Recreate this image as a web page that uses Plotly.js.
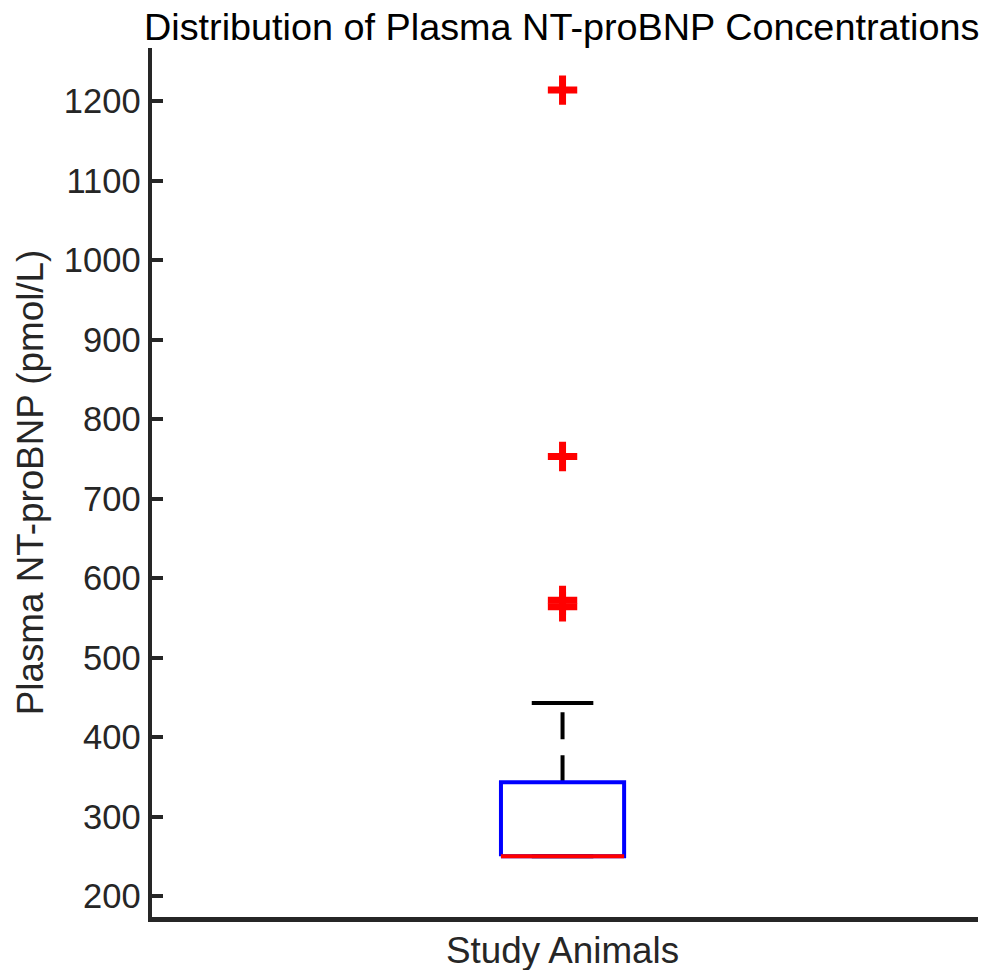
<!DOCTYPE html>
<html>
<head>
<meta charset="utf-8">
<script src="https://cdn.plot.ly/plotly-3.0.1.min.js"></script>
<style>html,body{margin:0;padding:0;background:#fff;}#chart{width:995px;height:970px;}</style>
</head>
<body>
<div id="chart"></div>
<script>
// ---- data ----
var categories = ['Study Animals'];
var q1Values = [250];
var medianValues = [250];
var q3Values = [343];
var upperWhisker = [443];
var lowerWhisker = [250];
var outlierValues = [564, 572, 753, 1214];
var yTickValues = [200, 300, 400, 500, 600, 700, 800, 900, 1000, 1100, 1200];

// ---- styling constants ----
var BOX_HALF = 0.075, CAP_HALF = 0.0375;
var AXIS_COLOR = '#262626';
var FONT = 'Liberation Sans, Arial, Helvetica, sans-serif';

var traces = [];
categories.forEach(function (cat, i) {
  var xc = i + 1;
  // upper whisker (dashed), drawn from q3 upward
  traces.push({x: [xc, xc], y: [q3Values[i], upperWhisker[i]], mode: 'lines',
    line: {color: '#000', width: 4, dash: '27px,16px'}, hoverinfo: 'skip'});
  // lower whisker
  traces.push({x: [xc, xc], y: [q1Values[i], lowerWhisker[i]], mode: 'lines',
    line: {color: '#000', width: 4, dash: '27px,16px'}, hoverinfo: 'skip'});
  // whisker caps
  traces.push({x: [xc - CAP_HALF, xc + CAP_HALF], y: [upperWhisker[i], upperWhisker[i]], mode: 'lines',
    line: {color: '#000', width: 4}, hoverinfo: 'skip'});
  traces.push({x: [xc - CAP_HALF, xc + CAP_HALF], y: [lowerWhisker[i], lowerWhisker[i]], mode: 'lines',
    line: {color: '#000', width: 4}, hoverinfo: 'skip'});
  // box
  traces.push({x: [xc - BOX_HALF, xc - BOX_HALF, xc + BOX_HALF, xc + BOX_HALF, xc - BOX_HALF],
    y: [q1Values[i], q3Values[i], q3Values[i], q1Values[i], q1Values[i]], mode: 'lines',
    line: {color: '#0000ff', width: 4}, hoverinfo: 'skip'});
  // median
  traces.push({x: [xc - BOX_HALF, xc + BOX_HALF], y: [medianValues[i], medianValues[i]], mode: 'lines',
    line: {color: '#ff0000', width: 4}, hoverinfo: 'skip'});
  // outliers
  traces.push({x: outlierValues.map(function () { return xc; }), y: outlierValues, mode: 'markers',
    marker: {symbol: 'cross-thin-open', size: 21, color: '#ff0000', line: {color: '#ff0000', width: 7}}});
});

var layout = {
  width: 995, height: 970,
  margin: {l: 152, r: 17, t: 48, b: 53},
  paper_bgcolor: '#fff', plot_bgcolor: '#fff',
  showlegend: false,
  title: {text: 'Distribution of Plasma NT-proBNP Concentrations',
    font: {family: FONT, size: 37.8, color: '#000'}, x: 0.5645, xanchor: 'center', y: 0.972, yanchor: 'middle'},
  xaxis: {range: [0.5, 1.506], showgrid: false, zeroline: false, showline: true,
    linecolor: AXIS_COLOR, linewidth: 4.5, ticks: '', ticklabelstandoff: -3,
    tickvals: categories.map(function (c, i) { return i + 1; }), ticktext: categories,
    tickfont: {family: FONT, size: 36.8, color: AXIS_COLOR}},
  yaxis: {range: [173.6, 1267], showgrid: false, zeroline: false, showline: true,
    linecolor: AXIS_COLOR, linewidth: 4.5, ticks: 'inside', ticklen: 11, tickwidth: 4, tickcolor: AXIS_COLOR,
    tickvals: yTickValues, tickfont: {family: FONT, size: 34.5, color: AXIS_COLOR},
    title: {text: 'Plasma NT-proBNP (pmol/L)', font: {family: FONT, size: 36.8, color: AXIS_COLOR}, standoff: 10}}
};

Plotly.newPlot('chart', traces, layout, {displayModeBar: false, staticPlot: true});
</script>
</body>
</html>
